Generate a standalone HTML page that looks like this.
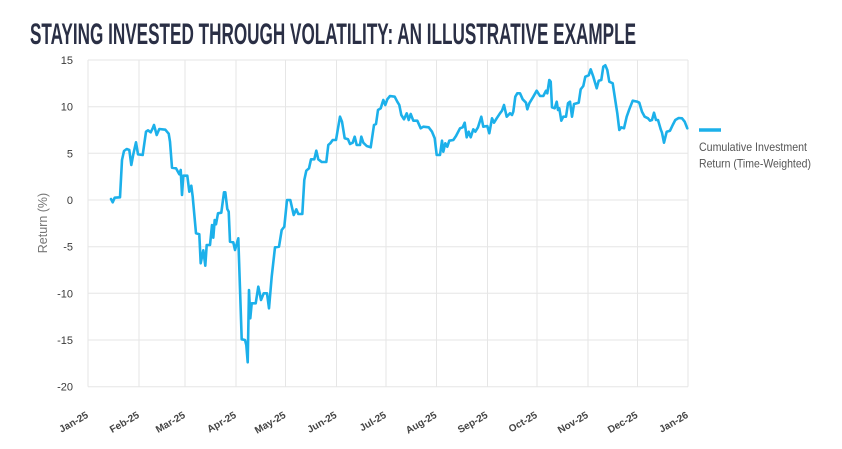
<!DOCTYPE html>
<html>
<head>
<meta charset="utf-8">
<style>
html,body{margin:0;padding:0;background:#fff;}
svg{display:block;}
</style>
</head>
<body>
<svg width="842" height="449" viewBox="0 0 842 449" xmlns="http://www.w3.org/2000/svg">
<rect width="842" height="449" fill="#fff"/>
<text x="30" y="44" font-family="Liberation Sans, sans-serif" font-weight="bold" font-size="30" fill="#2a2f45" textLength="606" lengthAdjust="spacingAndGlyphs">STAYING INVESTED THROUGH VOLATILITY: AN ILLUSTRATIVE EXAMPLE</text>

<g stroke="#e6e6e6" stroke-width="1" fill="none">
<line x1="88" y1="60" x2="688" y2="60"/>
<line x1="88" y1="106.7" x2="688" y2="106.7"/>
<line x1="88" y1="153.3" x2="688" y2="153.3"/>
<line x1="88" y1="200" x2="688" y2="200"/>
<line x1="88" y1="246.7" x2="688" y2="246.7"/>
<line x1="88" y1="293.3" x2="688" y2="293.3"/>
<line x1="88" y1="340" x2="688" y2="340"/>
<line x1="88" y1="386.7" x2="688" y2="386.7"/>
<line x1="88" y1="60" x2="88" y2="386.7"/>
<line x1="139" y1="60" x2="139" y2="386.7"/>
<line x1="185" y1="60" x2="185" y2="386.7"/>
<line x1="236" y1="60" x2="236" y2="386.7"/>
<line x1="285.5" y1="60" x2="285.5" y2="386.7"/>
<line x1="336.5" y1="60" x2="336.5" y2="386.7"/>
<line x1="386" y1="60" x2="386" y2="386.7"/>
<line x1="436.5" y1="60" x2="436.5" y2="386.7"/>
<line x1="487.5" y1="60" x2="487.5" y2="386.7"/>
<line x1="537" y1="60" x2="537" y2="386.7"/>
<line x1="588" y1="60" x2="588" y2="386.7"/>
<line x1="637.5" y1="60" x2="637.5" y2="386.7"/>
<line x1="688" y1="60" x2="688" y2="386.7"/>
</g>

<g font-family="Liberation Sans, sans-serif" font-size="11" fill="#3a3a3a" text-anchor="end">
<text x="73" y="64">15</text>
<text x="73" y="110.7">10</text>
<text x="73" y="157.3">5</text>
<text x="73" y="204">0</text>
<text x="73" y="250.7">-5</text>
<text x="73" y="297.3">-10</text>
<text x="73" y="344">-15</text>
<text x="73" y="390.7">-20</text>
</g>

<text x="0" y="0" transform="translate(47,223) rotate(-90)" font-family="Liberation Sans, sans-serif" font-size="12.5" fill="#777" text-anchor="middle">Return (%)</text>

<g font-family="Liberation Sans, sans-serif" font-size="10" font-weight="bold" fill="#444" text-anchor="end">
<text transform="translate(89,417) rotate(-30)">Jan-25</text>
<text transform="translate(140,417) rotate(-30)">Feb-25</text>
<text transform="translate(186,417) rotate(-30)">Mar-25</text>
<text transform="translate(237,417) rotate(-30)">Apr-25</text>
<text transform="translate(286.5,417) rotate(-30)">May-25</text>
<text transform="translate(337.5,417) rotate(-30)">Jun-25</text>
<text transform="translate(387,417) rotate(-30)">Jul-25</text>
<text transform="translate(437.5,417) rotate(-30)">Aug-25</text>
<text transform="translate(488.5,417) rotate(-30)">Sep-25</text>
<text transform="translate(538,417) rotate(-30)">Oct-25</text>
<text transform="translate(589,417) rotate(-30)">Nov-25</text>
<text transform="translate(638.5,417) rotate(-30)">Dec-25</text>
<text transform="translate(689,417) rotate(-30)">Jan-26</text>
</g>

<polyline fill="none" stroke="#1cb0ea" stroke-width="2.6" stroke-linejoin="round" stroke-linecap="round" points="111,199 112.7,202.3 114.7,197.7 120,197.3 122,160 124,151 126.7,149 129.3,150 131.3,165 133.3,154.3 136,142.3 138,154.3 142.7,155 146,131.7 148,130.3 150.7,132.3 152.7,128.3 154,125 156.7,135 159.3,129 165.3,129.7 168.7,133.7 170,141.7 172,167.7 176,168.3 179.3,174.3 180.7,170 182,195 183.3,175.7 187.3,175.7 189.3,191.7 191.3,185.7 192.7,196.7 196,233.3 199.3,234.3 200.7,263.3 203.3,250.3 205.3,265.7 206.7,245 210,245 212,225 213.3,237.7 214.7,220 216,224.3 218,213.3 221.3,212.7 224,192.3 225.3,192.3 227.3,209 228.7,211.7 230,241.7 233.3,242.3 235,250 238.3,238.3 241.7,339.3 245,340 246.3,345 247.7,362.3 249,290 250.3,318.3 251.7,303.3 255.7,303.3 258.3,286.7 259.7,293.3 261,300 263.7,293.3 267,293.3 269,308.3 271.7,276.7 275,247.3 279,246.7 281.7,230 284.3,226.7 287,200 290.3,200 293.7,215 296.3,209.3 298.3,214 302.3,214 304.3,180 306.3,170.7 309,168.3 311,159.3 314.3,159.3 316.3,150.7 318.3,159.3 321.7,162 326.3,162 328.3,145 330.3,143.3 332.7,140 336,140 340,116.7 342,121.7 344.7,138.3 348,139.3 350,144 352.7,142.7 354.7,136.7 356.7,145 360,145 361.3,136.7 363.3,142.7 366.7,146 370.7,147.3 374,125 376,124 378,110 380.7,108.3 383.3,100 385.3,105 387.3,99.3 390,96 394.7,96.7 397.3,101.7 399.3,105 401.3,115 404,119.3 406.7,113.3 408.7,120 410.7,114 413.3,120.7 417.3,120.7 420.7,128.3 423.3,126.7 428.7,127.3 432,131.7 434.7,138.3 436.7,155 440,155 442,140.7 443.3,151.7 445.3,143.3 447.3,146.7 449.3,140.7 453.3,140 456,136 460,128.3 462.7,127.3 464.7,122.7 466.7,137.3 468.7,131.7 470.7,137.3 473.3,129.3 475.3,131.7 478,127.3 481.3,116.7 483.3,126.7 487.3,126 489.3,133.3 492,118.3 494,122.7 496.7,118.3 500,113.3 502,110.7 504,105 506.7,116.7 510,113.3 512,115 513.3,111.7 515.3,96.7 517.3,93.3 520,93.3 522.7,99.3 526,102.7 527.3,109.3 529.3,103.3 533.3,96.7 536.7,90.7 540,96 543.3,96 546,90.7 547.3,93.3 549.3,80 550.7,81.7 552,107.3 554.7,108.3 556.7,101.7 558,110 559.3,108.3 561.3,120.7 563.3,116.7 566,116.7 568,103.3 570,101.7 572,116.7 574,104 578.7,102.7 580.7,89.3 583.3,86 585.3,76.7 588.7,75.3 590.7,69.3 593.3,76.7 596.7,88.3 598.7,80.7 601.3,80 603.3,66.7 605.3,65.3 607.3,70 609.3,81.7 612.7,83.3 616,105 617.3,113.3 619.3,130 621.3,127.3 624,128.3 626.7,116.7 629.3,109.3 632.7,100.7 637.3,101.7 639.3,102.7 642,111.7 644.7,116.7 648,118.3 650,120.7 652,120 654,112.7 656,120 658,120 660.7,129.3 662,132.7 664,142.7 666.7,131.7 670,130.7 672.7,125 675.3,120 678.7,118 682,118.3 684.7,121.7 687.3,128.3"/>

<line x1="699" y1="130" x2="721" y2="130" stroke="#1cb0ea" stroke-width="3.5"/>
<g font-family="Liberation Sans, sans-serif" font-size="12" fill="#555">
<text x="699" y="151" textLength="108" lengthAdjust="spacingAndGlyphs">Cumulative Investment</text>
<text x="699" y="167.5" textLength="112" lengthAdjust="spacingAndGlyphs">Return (Time-Weighted)</text>
</g>
</svg>
</body>
</html>
